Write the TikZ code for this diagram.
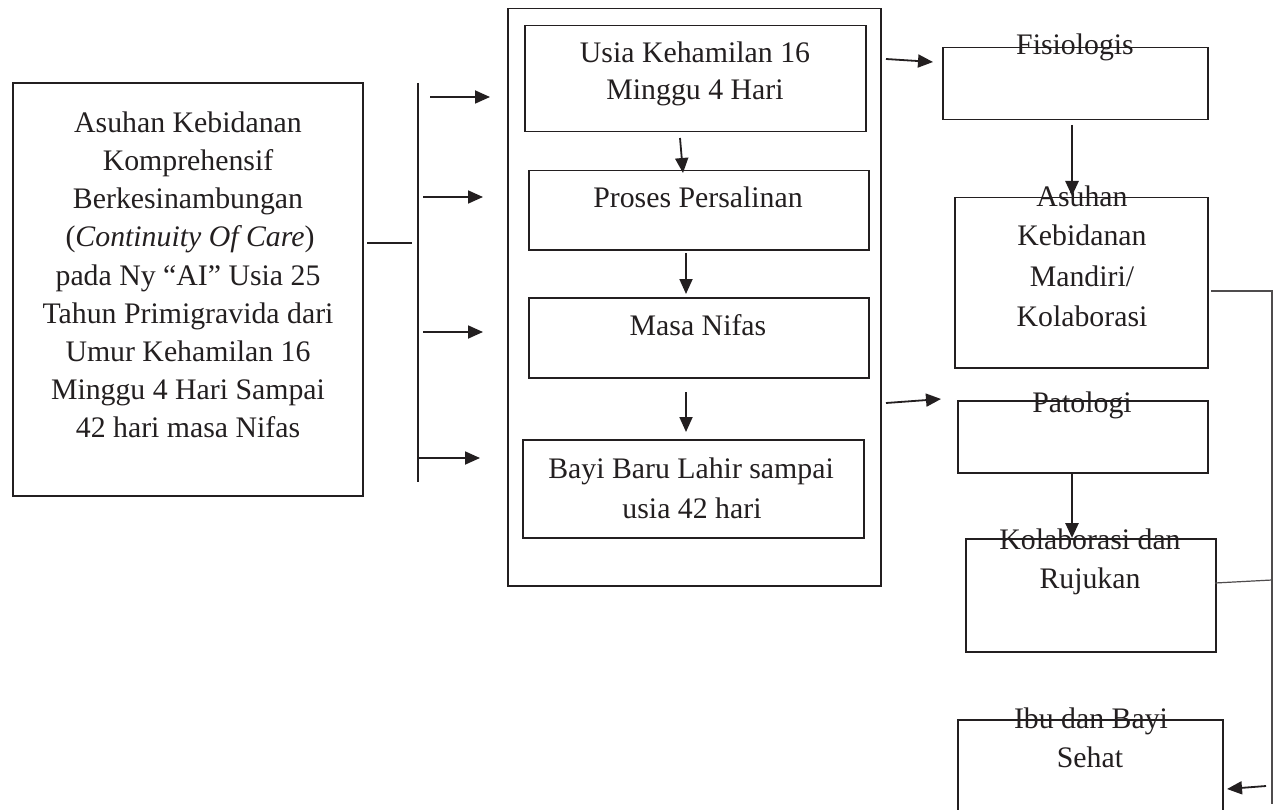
\documentclass[tikz,border=0pt]{standalone}
\usepackage{fontspec}
\setmainfont{Liberation Serif}
\usetikzlibrary{arrows.meta}
\definecolor{ink}{HTML}{231F20}
\tikzset{
  box/.style={draw=ink, line width=1.5pt, inner sep=0pt, anchor=north west, rectangle},
  txt/.style={anchor=base, inner sep=0pt, text=ink, font=\fontsize{29.8}{38}\selectfont},
  arr/.style={draw=ink, line width=1.8pt, -{Triangle[length=15pt,width=13pt]}},
  thk/.style={arr, line width=2.6pt},
  ln/.style={draw=ink, line width=1.5pt},
  thin/.style={draw=ink!80, line width=1.2pt},
}
\begin{document}
\begin{tikzpicture}[x=1pt,y=-1pt]
\clip (0,0) rectangle (1273,810);
\fill[white] (0,0) rectangle (1273,810);

% ---------- left box ----------
\node[box, minimum width=350pt, minimum height=412pt] (L) at (12,83) {};
\draw[ink, line width=2.5pt] (L.north west) -- (L.north east);
\node[txt] (l1) at (188,133) {Asuhan Kebidanan};
\node[txt] (l2) at (188,171) {Komprehensif};
\node[txt] (l3) at (188,209) {Berkesinambungan};
\node[txt] (l4) at (190,247) {(\textit{Continuity Of Care})};
\node[txt] (l5) at (188,285) {pada Ny ``AI'' Usia 25};
\node[txt] (l6) at (188,323) {Tahun Primigravida dari};
\node[txt] (l7) at (188,361) {Umur Kehamilan 16};
\node[txt] (l8) at (188,399) {Minggu 4 Hari Sampai};
\node[txt] (l9) at (188,437) {42 hari masa Nifas};

% ---------- middle column ----------
\node[box, minimum width=373pt, minimum height=577pt] (M) at (507,8) {};
\node[box, minimum width=341pt, minimum height=106pt] (B1) at (524,25) {};
\node[box, minimum width=340pt, minimum height=79pt] (B2) at (528,170) {};
\node[box, minimum width=340pt, minimum height=80pt] (B3) at (528,297) {};
\node[box, minimum width=341pt, minimum height=98pt] (B4) at (522,439) {};
\node[txt] (t1a) at (695,63) {Usia Kehamilan 16};
\node[txt] (t1b) at (695,100) {Minggu 4 Hari};
\node[txt] (t2) at (698,208) {Proses Persalinan};
\node[txt] (t3) at (698,335) {Masa Nifas};
\node[txt] (t4a) at (691,478) {Bayi Baru Lahir sampai};
\node[txt] (t4b) at (692,518) {usia 42 hari};

% ---------- right column ----------
\node[box, minimum width=265pt, minimum height=72pt] (F) at (942,47) {};
\node[box, minimum width=253pt, minimum height=170pt] (A) at (954,197) {};
\node[box, minimum width=250pt, minimum height=72pt] (P) at (957,400) {};
\node[box, minimum width=250pt, minimum height=113pt] (K) at (965,538) {};
\node[box, minimum width=265pt, minimum height=120pt] (I) at (957,719) {};
\node[txt] (tf) at (1075,55) {Fisiologis};
\node[txt] (ta1) at (1082,207) {Asuhan};
\node[txt] (ta2) at (1082,246) {Kebidanan};
\node[txt] (ta3) at (1082,286) {Mandiri/};
\node[txt] (ta4) at (1082,326) {Kolaborasi};
\node[txt] (tp) at (1082,412) {Patologi};
\node[txt] (tk1) at (1090,549) {Kolaborasi dan};
\node[txt] (tk2) at (1090,588) {Rujukan};
\node[txt] (ti1) at (1091,728) {Ibu dan Bayi};
\node[txt] (ti2) at (1090,767) {Sehat};

% ---------- connector points ----------
\coordinate (lo) at (367,243);
\coordinate (li) at (412,243);
\coordinate (bt) at (418,83);
\coordinate (bb) at (418,482);
\coordinate (s1) at (430,97);  \coordinate (e1) at (490,97);
\coordinate (s2) at (423,197); \coordinate (e2) at (483,197);
\coordinate (s3) at (423,332); \coordinate (e3) at (483,332);
\coordinate (s4) at (419,458); \coordinate (e4) at (480,458);
\coordinate (d1s) at (680,138); \coordinate (d1e) at (683,173);
\coordinate (d2s) at (686,253); \coordinate (d2e) at (686,294);
\coordinate (d3s) at (686,392); \coordinate (d3e) at (686,432);
\coordinate (rfs) at (886,59);  \coordinate (rfe) at (933,62);
\coordinate (rps) at (886,403); \coordinate (rpe) at (941,399);
\coordinate (fas) at (1072,125); \coordinate (fae) at (1072,196);
\coordinate (pks) at (1072,472); \coordinate (pke) at (1072,538);
\coordinate (ao) at (1211,291);
\coordinate (rc) at (1272,291);
\coordinate (rb) at (1272,804);
\coordinate (ko) at (1215,583);
\coordinate (kr) at (1272,580);
\coordinate (is) at (1266,786);
\coordinate (ie) at (1227,789);

% ---------- connectors ----------
\draw[ln] (lo) -- (li);
\draw[ln] (bt) -- (bb);
\draw[arr] (s1) -- (e1);
\draw[arr] (s2) -- (e2);
\draw[arr] (s3) -- (e3);
\draw[arr] (s4) -- (e4);
\draw[arr] (d1s) -- (d1e);
\draw[arr] (d2s) -- (d2e);
\draw[arr] (d3s) -- (d3e);
\draw[arr] (rfs) -- (rfe);
\draw[arr] (rps) -- (rpe);
\draw[thk] (fas) -- (fae);
\draw[thk] (pks) -- (pke);
\draw[thin] (ao) -- (rc) -- (rb);
\draw[thin] (ko) -- (kr);
\draw[arr] (is) -- (ie);
\end{tikzpicture}
\end{document}
